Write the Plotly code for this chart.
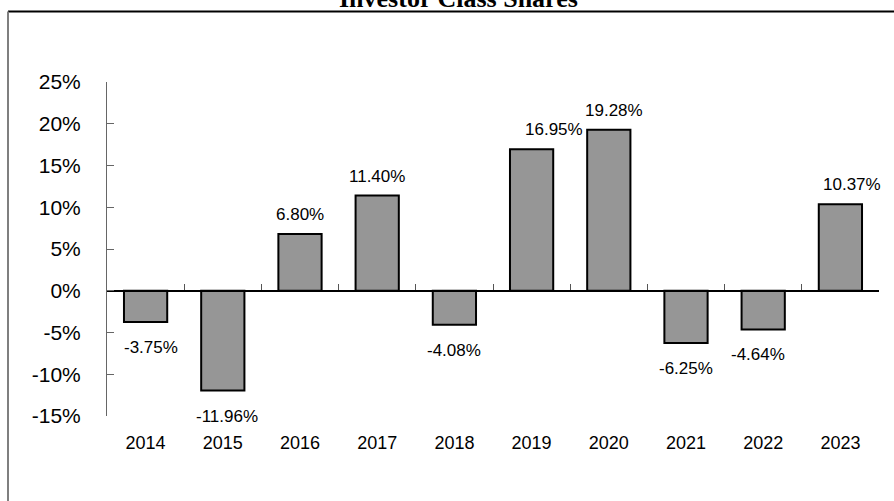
import plotly.graph_objects as go

years = ["2014", "2015", "2016", "2017", "2018", "2019", "2020", "2021", "2022", "2023"]
returns = [-3.75, -11.96, 6.80, 11.40, -4.08, 16.95, 19.28, -6.25, -4.64, 10.37]
labels = ["-3.75%", "-11.96%", "6.80%", "11.40%", "-4.08%", "16.95%", "19.28%", "-6.25%", "-4.64%", "10.37%"]
y_ticks = [25, 20, 15, 10, 5, 0, -5, -10, -15]
y_ticktext = ["25%", "20%", "15%", "10%", "5%", "0%", "-5%", "-10%", "-15%"]
title = "Investor Class Shares"

# label horizontal nudges (px), styling only
label_nudge = [5, 4, 0, 0, 0, 22, 5, 0, -5, 12]

W, H = 894, 501
L, R, T, B = 107, 879, 81.5, 416  # plot area in px

def px_x(p):
    return (p - L) / (R - L)

def px_y(p):
    return (B - p) / (B - T)

xs = list(range(len(years)))
FONT = "Liberation Sans, Arial, sans-serif"

fig = go.Figure()
fig.add_trace(go.Bar(
    x=xs, y=returns, width=0.56,
    marker=dict(color="#969696", line=dict(color="black", width=2)),
    hoverinfo="skip", showlegend=False,
))
# invisible trace for the second x axis (zero-line ticks)
fig.add_trace(go.Scatter(x=[xs[0]], y=[0], xaxis="x2", mode="markers",
                         marker=dict(opacity=0), showlegend=False, hoverinfo="skip"))

for i, (v, t) in enumerate(zip(returns, labels)):
    fig.add_annotation(
        x=xs[i], y=v, text=t, showarrow=False,
        yanchor="bottom" if v >= 0 else "top",
        yshift=8 if v >= 0 else -14,
        xshift=label_nudge[i],
        font=dict(family=FONT, size=17, color="black"),
    )

fig.add_annotation(
    x=px_x(458), y=px_y(14), xref="paper", yref="paper", text="<b>" + title + "</b>",
    showarrow=False, yanchor="bottom", xanchor="center",
    font=dict(family="Liberation Serif, Times New Roman, serif", size=26, color="black"),
)

fig.update_layout(
    width=W, height=H,
    margin=dict(l=L, r=W - R, t=T, b=H - B, pad=0),
    paper_bgcolor="white", plot_bgcolor="white",
    bargap=0.44,
    xaxis=dict(
        range=[-0.5, len(years) - 0.5], tickvals=xs, ticktext=years,
        showline=False, showgrid=False, zeroline=False, ticks="",
        tickfont=dict(family=FONT, size=18, color="black"),
        ticklabelstandoff=14,
    ),
    xaxis2=dict(
        range=[-0.5, len(years) - 0.5], overlaying="x", anchor="free",
        position=15 / 40,
        tickvals=[i - 0.5 for i in range(len(years) + 1)],
        showticklabels=False, ticks="inside", ticklen=6, tickcolor="#555555",
        showline=True, linecolor="black", linewidth=1.5, showgrid=False, zeroline=False,
    ),
    yaxis=dict(
        range=[-15, 25], tickvals=y_ticks, ticktext=y_ticktext,
        showline=True, linecolor="#666666", linewidth=1,
        ticks="inside", ticklen=7, tickcolor="#666666",
        showgrid=False, zeroline=False,
        tickfont=dict(family=FONT, size=21, color="black"),
        ticklabelstandoff=21,
    ),
    shapes=[
        dict(type="line", xref="paper", yref="paper",
             x0=px_x(8), x1=px_x(W + 5), y0=px_y(11), y1=px_y(11),
             line=dict(color="black", width=2)),
        dict(type="line", xref="paper", yref="paper",
             x0=px_x(8), x1=px_x(8), y0=px_y(11), y1=px_y(H + 5),
             line=dict(color="#7f7f7f", width=2)),
    ],
)

fig.write_html(
    "out.html",
    config={"displayModeBar": False},
    post_script="document.body.style.margin='0';document.body.style.overflow='hidden';",
)
